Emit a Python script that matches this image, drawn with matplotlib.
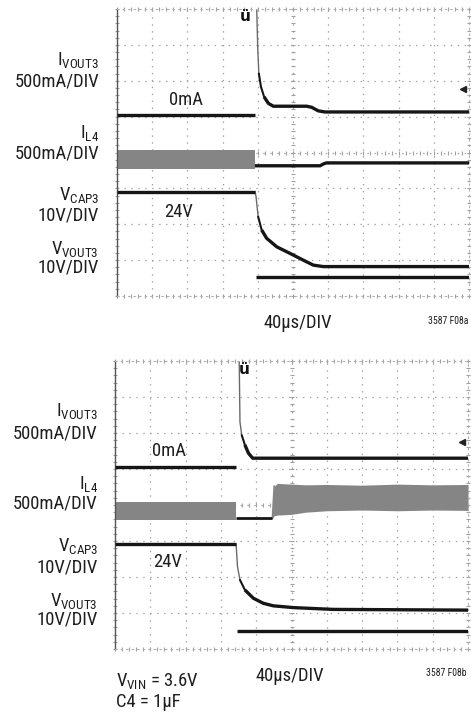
import numpy as np
import matplotlib
matplotlib.use("Agg")
import matplotlib.pyplot as plt
from matplotlib import font_manager

# pick a narrow sans if one is installed
installed = {f.name for f in font_manager.fontManager.ttflist}
candidates = ["Liberation Sans Narrow", "DejaVu Sans Condensed", "Roboto Condensed",
              "Open Sans Condensed", "Liberation Sans", "DejaVu Sans"]
main_font = next(c for c in candidates if c in installed or c == "DejaVu Sans")
plt.rcParams["font.family"] = [main_font, "DejaVu Sans"]
plt.rcParams["mathtext.fontset"] = "custom"
plt.rcParams["mathtext.rm"] = main_font
plt.rcParams["lines.scale_dashes"] = False

W, H = 471, 713

# -----------------------------
# Trace data, in scope divisions (x: 0..10, y: 0..8)
# -----------------------------
# panel a (top)
a_ivout3_pre_x = [0.0, 3.92]
a_ivout3_pre_y = [5.04, 5.04]
a_ivout3_x = [3.96, 3.97, 4.00, 4.03, 4.09, 4.18, 4.30, 4.44, 5.39, 5.53, 5.72, 5.91, 10.0]
a_ivout3_y = [8.30, 7.97, 6.85, 6.20, 5.83, 5.55, 5.37, 5.29, 5.29, 5.26, 5.16, 5.13, 5.13]

a_il4_band_x = [0.0, 3.92]
a_il4_band_lo = [3.55, 3.55]
a_il4_band_hi = [4.07, 4.07]
a_il4_x = [3.92, 5.77, 5.86, 5.95, 10.0]
a_il4_y = [3.63, 3.63, 3.68, 3.71, 3.71]

a_vcap3_pre_x = [0.0, 3.92]
a_vcap3_pre_y = [2.91, 2.91]
a_vcap3_x = [3.92, 3.95, 4.01, 4.11, 4.25, 4.54, 4.91, 5.29, 5.58, 5.86, 10.0]
a_vcap3_y = [2.91, 2.77, 2.21, 1.84, 1.61, 1.37, 1.19, 1.00, 0.86, 0.82, 0.82]

a_vvout3_x = [3.95, 10.0]
a_vvout3_y = [0.54, 0.54]

# panel b (bottom)
b_ivout3_pre_x = [0.0, 3.43]
b_ivout3_pre_y = [5.06, 5.06]
b_ivout3_x = [3.51, 3.52, 3.54, 3.59, 3.68, 3.78, 3.90, 4.05, 10.0]
b_ivout3_y = [8.30, 7.90, 6.31, 5.94, 5.67, 5.44, 5.30, 5.30, 5.30]

b_il4_band_pre_x = [0.0, 3.43]
b_il4_band_pre_lo = [3.58, 3.58]
b_il4_band_pre_hi = [4.09, 4.09]
b_il4_x = [3.43, 4.46]
b_il4_y = [3.63, 3.63]
b_il4_band_x = [4.46, 4.51, 4.60, 5.0, 5.4, 6.0, 7.0, 8.0, 9.0, 10.0]
b_il4_band_lo = [3.63, 3.70, 3.72, 3.74, 3.80, 3.84, 3.86, 3.84, 3.86, 3.85]
b_il4_band_hi = [4.10, 4.52, 4.60, 4.58, 4.56, 4.57, 4.55, 4.58, 4.56, 4.57]

b_vcap3_pre_x = [0.0, 3.43]
b_vcap3_pre_y = [2.91, 2.91]
b_vcap3_x = [3.43, 3.47, 3.54, 3.68, 3.92, 4.20, 4.48, 5.05, 6.18, 10.0]
b_vcap3_y = [2.91, 2.29, 1.92, 1.64, 1.41, 1.27, 1.20, 1.15, 1.10, 1.08]

b_vvout3_x = [3.46, 10.0]
b_vvout3_y = [0.51, 0.51]

TRACE = "#161616"
EDGE = "#6a6a6a"
BAND = "#858585"
GRID = "#a0a0a0"
TEXT = "#1e1e1e"


def px_box(left, top, right, bottom):
    return [left / W, 1 - bottom / H, (right - left) / W, (bottom - top) / H]


def scope_axes(box):
    ax = fig.add_axes(box)
    ax.set_xlim(0, 10)
    ax.set_ylim(0, 8)
    ax.set_xticks([])
    ax.set_yticks([])
    for i in range(1, 10):
        ax.axvline(i, color=GRID, lw=0.9, ls=(0, (1.0, 4.0)), zorder=1)
    for j in range(1, 8):
        ax.axhline(j, color=GRID, lw=0.9, ls=(0, (1.0, 4.0)), zorder=1)
    # small ticks on the centre cross and the frame
    xs = np.arange(0, 10.01, 0.2)
    ys = np.arange(0, 8.01, 0.2)
    for yy in (4, 0, 8):
        ax.plot(xs, np.full_like(xs, yy), ls="none", marker="|",
                ms=3, mew=0.8, color=GRID, zorder=1, clip_on=False)
    for xx in (5, 0, 10):
        ax.plot(np.full_like(ys, xx), ys, ls="none", marker="_",
                ms=3, mew=0.8, color=GRID, zorder=1, clip_on=False)
    ax.spines["left"].set_color("#555555")
    ax.spines["left"].set_linewidth(1.0)
    for s in ("top", "bottom", "right"):
        ax.spines[s].set_color("#b0b0b0")
        ax.spines[s].set_linewidth(0.8)
        ax.spines[s].set_linestyle((0, (1.0, 3.0)))
    return ax


def trace(ax, x, y, lw=2.4):
    ax.plot(x, y, color=TRACE, lw=lw, solid_capstyle="butt", zorder=3)


def fast_trace(ax, x, y, n_thin, n_mid):
    # fast edges show up faint on the scope, slow parts thick
    ax.plot(x[:n_thin + 1], y[:n_thin + 1], color=EDGE, lw=1.0, zorder=2)
    ax.plot(x[n_thin:n_mid + 1], y[n_thin:n_mid + 1], color=TRACE, lw=1.5,
            zorder=3, solid_capstyle="round")
    ax.plot(x[n_mid:], y[n_mid:], color=TRACE, lw=2.4, zorder=3,
            solid_capstyle="butt")


fig = plt.figure(figsize=(W / 100, H / 100), dpi=100)

# size the text so "500mA/DIV" spans ~85 px like the reference
renderer = fig.canvas.get_renderer()
probe = fig.text(0, 0, "500mA/DIV", fontsize=13.5)
probe_w = probe.get_window_extent(renderer).width
probe.remove()
FS = min(15.0, 13.5 * 85.0 / probe_w)
plt.rcParams["font.size"] = FS

# -----------------------------
# Panel a
# -----------------------------
ax = scope_axes(px_box(117, 9, 469, 296))
trace(ax, a_ivout3_pre_x, a_ivout3_pre_y)
fast_trace(ax, a_ivout3_x, a_ivout3_y, 3, 5)
ax.fill_between(a_il4_band_x, a_il4_band_lo, a_il4_band_hi,
                color=BAND, lw=0, zorder=2)
trace(ax, a_il4_x, a_il4_y)
trace(ax, a_vcap3_pre_x, a_vcap3_pre_y)
fast_trace(ax, a_vcap3_x, a_vcap3_y, 2, 3)
trace(ax, a_vvout3_x, a_vvout3_y)
ax.text(3.64, 7.80, "ü", fontsize=11, fontweight="bold", ha="center",
        va="center", color="#111111", family="DejaVu Sans")
ax.plot([9.84], [5.77], marker="<", ms=4, color="#222222", zorder=4)
ax.text(1.95, 5.45, "0mA", ha="center", va="center", color=TEXT)
ax.text(1.75, 2.35, "24V", ha="center", va="center", color=TEXT)

# -----------------------------
# Panel b
# -----------------------------
bx = scope_axes(px_box(115, 361, 468, 649))
trace(bx, b_ivout3_pre_x, b_ivout3_pre_y)
fast_trace(bx, b_ivout3_x, b_ivout3_y, 3, 4)
bx.fill_between(b_il4_band_pre_x, b_il4_band_pre_lo, b_il4_band_pre_hi,
                color=BAND, lw=0, zorder=2)
trace(bx, b_il4_x, b_il4_y, lw=2.0)
bx.plot([b_il4_x[-1], b_il4_band_x[1]], [b_il4_y[-1], b_il4_band_hi[1]],
        color=BAND, lw=1.2, zorder=2)
bx.fill_between(b_il4_band_x, b_il4_band_lo, b_il4_band_hi,
                color=BAND, lw=0, zorder=2)
trace(bx, b_vcap3_pre_x, b_vcap3_pre_y)
fast_trace(bx, b_vcap3_x, b_vcap3_y, 2, 3)
trace(bx, b_vvout3_x, b_vvout3_y)
bx.text(3.65, 7.75, "ü", fontsize=11, fontweight="bold", ha="center",
        va="center", color="#111111", family="DejaVu Sans")
bx.plot([9.82], [5.76], marker="<", ms=4, color="#222222", zorder=4)
bx.text(1.53, 5.5, "0mA", ha="center", va="center", color=TEXT)
bx.text(1.50, 2.41, "24V", ha="center", va="center", color=TEXT)

# -----------------------------
# Labels
# -----------------------------
def ftext(x, y, s, **kw):
    kw.setdefault("va", "center")
    kw.setdefault("color", TEXT)
    fig.text(x / W, 1 - y / H, s, **kw)


left_labels = [
    (r"I$_{\mathregular{VOUT3}}$", "500mA/DIV"),
    (r"I$_{\mathregular{L4}}$", "500mA/DIV"),
    (r"V$_{\mathregular{CAP3}}$", "10V/DIV"),
    (r"V$_{\mathregular{VOUT3}}$", "10V/DIV"),
]
a_label_y = [(61, 81), (134, 154), (196, 215), (250, 268)]
b_label_y = [(412, 433), (485, 504), (547, 568), (602, 620)]

for (name, scale), (y1, y2) in zip(left_labels, a_label_y):
    ftext(99, y1, name, ha="right")
    ftext(99, y2, scale, ha="right")
for (name, scale), (y1, y2) in zip(left_labels, b_label_y):
    ftext(98, y1, name, ha="right")
    ftext(98, y2, scale, ha="right")

ftext(298, 323, "40µs/DIV", ha="center")
ftext(468, 321, "3587 F08a", ha="right", fontsize=FS * 0.52)
ftext(290, 676, "40µs/DIV", ha="center")
ftext(467, 673, "3587 F08b", ha="right", fontsize=FS * 0.52)
ftext(116, 682, r"V$_{\mathregular{VIN}}$ = 3.6V", ha="left")
ftext(116, 702, "C4 = 1µF", ha="left")

fig.savefig("out.png", dpi=100, facecolor="white")
